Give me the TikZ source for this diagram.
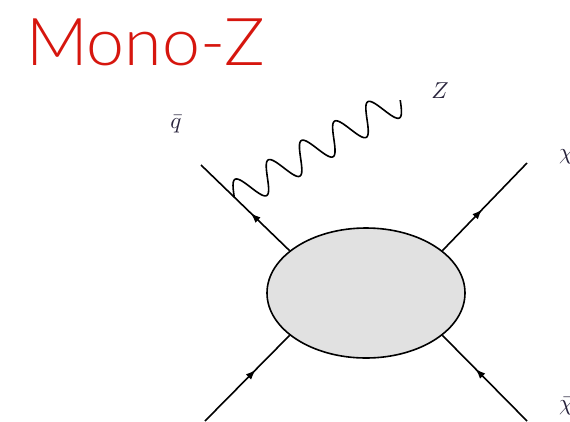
\documentclass[tikz,border=0pt]{standalone}
\usepackage{fontspec}
\usetikzlibrary{shapes.geometric,decorations.markings,arrows.meta,calc}
\IfFontExistsTF{Lato Light}{\newfontfamily\titlefont{Lato Light}}{\newfontfamily\titlefont{Lato}}
\definecolor{titlered}{RGB}{214,22,14}
\definecolor{blobgray}{RGB}{225,225,225}
\definecolor{labelcol}{RGB}{40,35,60}
\newcommand{\biglbl}[1]{\scalebox{2.3}{$#1$}}
\tikzset{
  fermionline/.style={line width=1.6pt,postaction={decorate},
    decoration={markings,mark=at position #1 with {\arrow{Latex[length=10pt,width=7.5pt]}}}},
  bosonline/.style={line width=1.6pt},
  blobshape/.style={ellipse,draw,line width=1.6pt,fill=blobgray,minimum width=198pt,minimum height=130pt,inner sep=0pt},
  lbl/.style={text=labelcol,inner sep=0pt},
}
\begin{document}
\begin{tikzpicture}[x=1pt,y=-1pt]
\useasboundingbox (0,0) rectangle (570,421);
\node[anchor=base west,inner sep=0pt,text=titlered,font=\titlefont\fontsize{66}{70}\selectfont,xscale=1.03] (title) at (26,65) {Mono-Z};
\node[blobshape] (blob) at (366,293) {};
\coordinate (qo) at (201,165);
\coordinate (xo) at (527,163);
\coordinate (bl) at (205,421);
\coordinate (br) at (527,421);
\coordinate (zo) at (400,100);
\coordinate (v) at ($(qo)!0.375!(blob.151)$);
\draw[fermionline=0.44] (blob.151) -- (qo);
\draw[fermionline=0.47] (blob.29) -- (xo);
\draw[fermionline=0.6] (bl) -- (blob.209);
\draw[fermionline=0.61] (br) -- (blob.331);
% photon: sine wave from vertex v towards zo (5 periods)
\begin{scope}[shift={(v)},x={(0.8633pt,0.5044pt)},y={(-0.5044pt,0.8633pt)}]
\draw[bosonline] plot[domain=0:192.3,samples=240,smooth] (\x,{15*sin(\x/38.46*360)});
\end{scope}
\node[lbl] (qlab) at (176,124) {\biglbl{\bar q}};
\node[lbl] (zlab) at (440,91) {\biglbl{Z}};
\node[lbl,anchor=west] (chilab) at (559,157) {\biglbl{\chi}};
\node[lbl,anchor=west] (chibarlab) at (559,406) {\biglbl{\bar\chi}};
\end{tikzpicture}
\end{document}
